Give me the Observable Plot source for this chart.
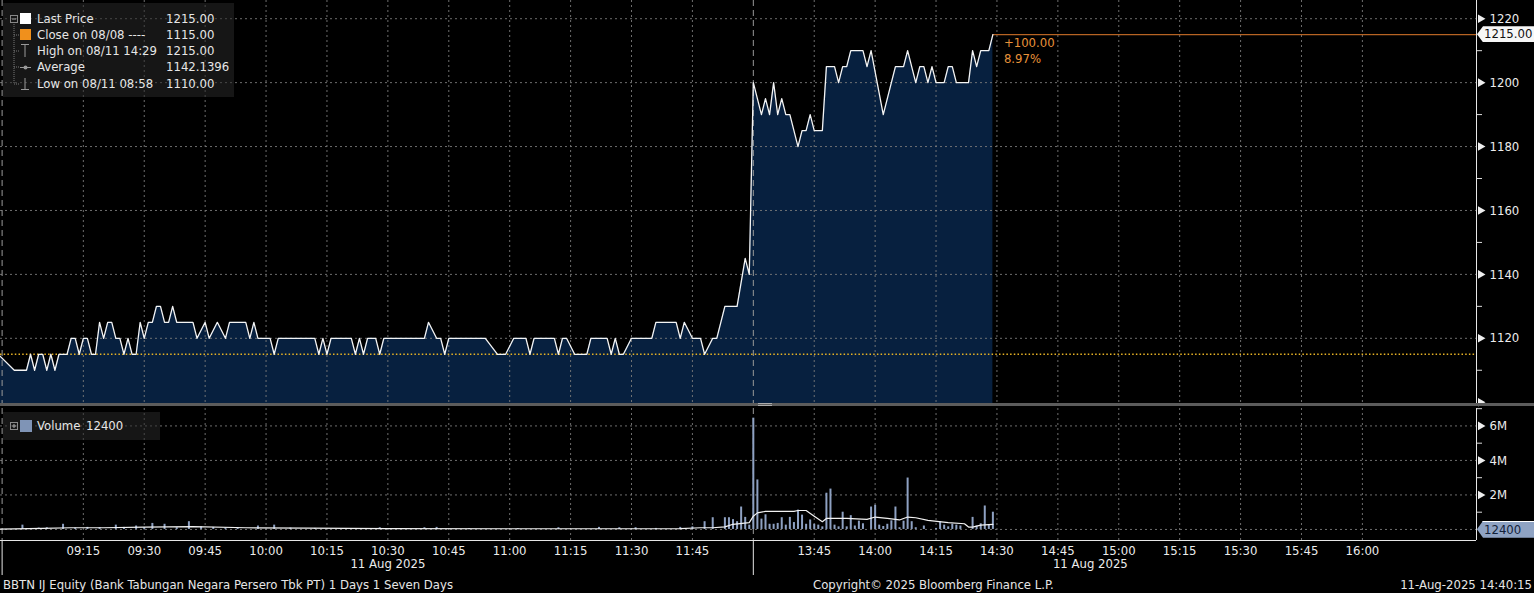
<!DOCTYPE html>
<html>
<head>
<meta charset="utf-8">
<script src="https://cdn.jsdelivr.net/npm/d3@7"></script>
<script src="https://cdn.jsdelivr.net/npm/@observablehq/plot@0.6"></script>
<style>
  html, body { margin: 0; padding: 0; background: #000; }
  #wrap { position: relative; width: 1534px; height: 593px; background: #000; overflow: hidden;
    font-family: "Liberation Sans Narrow", "Arial Narrow", "DejaVu Sans Condensed", "Liberation Sans", sans-serif;
    color: #e6e6e6; font-size: 13px; }
  .abs { position: absolute; white-space: nowrap; }
  .lg { position: absolute; background: rgba(40,40,40,0.55); }
  .row { position: absolute; height: 16px; line-height: 16px; white-space: nowrap; }
  .valbox { position: absolute; height: 16px; line-height: 16px; font-size: 13px; padding-left: 7px;
    clip-path: polygon(0 50%, 6px 0, 100% 0, 100% 100%, 6px 100%); }
</style>
</head>
<body>
<div id="wrap"></div>
<script>
// ---------------- DATA ----------------
const priceTimes = ["08:54","08:58","09:01","09:02","09:03","09:04","09:05","09:06","09:07","09:08",
"09:09","09:11","09:12","09:13","09:14","09:15","09:16","09:17","09:18","09:19",
"09:20","09:21","09:22","09:23","09:24","09:25","09:26","09:27","09:28","09:29",
"09:30","09:31","09:32","09:33","09:34","09:35","09:36","09:37","09:38","09:42",
"09:43","09:45","09:46","09:48","09:50","09:51","09:55","09:56","09:57","09:58",
"10:01","10:02","10:03","10:12","10:13","10:14","10:15","10:16","10:21","10:22",
"10:23","10:24","10:25","10:27","10:28","10:29","10:39","10:40","10:42","10:43",
"10:44","10:45","10:54","10:57","10:59","11:01","11:04","11:05","11:06","11:11",
"11:12","11:13","11:14","11:16","11:19","11:20","11:24","11:25","11:26","11:27",
"11:28","11:30","11:35","11:36","11:41","11:42","11:43","11:45","11:47","11:48",
"11:50","11:51","11:53","11:56","11:58","11:59",
"13:30","13:32","13:33","13:34","13:35","13:36","13:37","13:38","13:39","13:41",
"13:42","13:43","13:44","13:45","13:47","13:48","13:50","13:51","13:52","13:53",
"13:54","13:57","13:58","13:59","14:02","14:05","14:07","14:08","14:10","14:11",
"14:12","14:13","14:14","14:15","14:17","14:18","14:19","14:20","14:23","14:24",
"14:25","14:26","14:28","14:29"];
const priceValues = [1115,1110,1110,1115,1110,1115,1115,1110,1115,1110,
1115,1115,1120,1120,1115,1120,1120,1115,1115,1125,
1120,1125,1125,1120,1120,1115,1120,1115,1115,1125,
1120,1125,1125,1130,1130,1125,1125,1130,1125,1125,
1120,1125,1120,1125,1120,1125,1125,1120,1125,1120,
1120,1115,1120,1120,1115,1120,1115,1120,1120,1115,
1120,1115,1120,1120,1115,1120,1120,1125,1120,1120,
1115,1120,1120,1115,1115,1120,1120,1115,1120,1120,
1115,1120,1120,1115,1115,1120,1120,1115,1120,1115,
1115,1120,1120,1125,1125,1120,1125,1120,1120,1115,
1120,1120,1130,1130,1145,1140,
1200,1190,1195,1190,1200,1190,1195,1190,1190,1180,
1185,1185,1190,1185,1185,1205,1205,1200,1205,1205,
1210,1210,1205,1210,1190,1205,1205,1210,1200,1205,
1205,1200,1205,1200,1200,1205,1205,1200,1200,1210,
1205,1210,1210,1215];

// volume per minute, in millions of shares
const volTimes = ["09:00","09:04","09:06","09:10","09:13","09:16","09:19","09:23","09:25","09:28",
"09:30","09:32","09:35","09:38","09:41","09:44","09:47","09:50","09:53","09:58",
"10:02","10:06","10:12","10:18","10:28","10:35","10:39","10:42","10:50","11:02",
"11:12","11:22","11:27","11:31","11:36","11:42","11:45","11:48","11:50","11:53",
"11:54","11:55","11:56","11:57","11:58","11:59",
"13:30","13:31","13:32","13:33","13:34","13:35","13:36","13:37","13:38","13:39",
"13:40","13:41","13:42","13:43","13:44","13:45","13:46","13:47","13:48","13:49",
"13:50","13:51","13:52","13:53","13:54","13:55","13:56","13:57","13:59","14:00",
"14:01","14:02","14:03","14:04","14:05","14:06","14:07","14:08","14:09","14:10",
"14:12","14:15","14:16","14:17","14:18","14:19","14:20","14:21","14:24","14:25",
"14:26","14:27","14:28","14:29"];
const volValues = [0.25,0.08,0.1,0.3,0.08,0.12,0.1,0.25,0.12,0.2,
0.1,0.35,0.3,0.1,0.45,0.15,0.12,0.08,0.1,0.2,
0.25,0.08,0.06,0.05,0.1,0.05,0.1,0.12,0.05,0.05,
0.1,0.12,0.1,0.1,0.06,0.12,0.15,0.45,0.68,0.68,
0.68,0.57,0.45,1.3,0.7,0.25,
6.45,2.87,0.6,0.85,0.3,0.3,0.35,0.68,0.25,0.7,
0.4,1.12,0.83,0.3,0.55,0.3,0.25,0.15,2.1,2.34,
0.25,0.15,1.0,0.15,0.8,0.2,0.48,0.33,1.3,1.4,
0.25,0.17,0.3,0.5,1.3,0.1,0.48,2.98,0.45,0.1,
0.2,0.06,0.45,0.25,0.15,0.3,0.25,0.2,0.7,0.2,
0.33,1.36,0.25,1.0];

// white average-volume line, millions
const volAvgTimes = ["08:54","09:05","09:12","09:20","09:30","09:42","09:55","10:10","10:30","11:00",
"11:20","11:42","11:47","11:50","11:53","11:55","11:59","13:30","13:31","13:33",
"13:40","13:41","13:43","13:45","13:47","13:48","13:53","13:58","14:00","14:03",
"14:06","14:08","14:10","14:13","14:18","14:22","14:23","14:24","14:26","14:29"];
const volAvgValues = [0.02,0.06,0.1,0.1,0.14,0.16,0.1,0.08,0.05,0.04,
0.04,0.05,0.1,0.1,0.15,0.3,0.4,0.77,0.96,1.05,
1.05,1.1,1.1,0.77,0.45,0.64,0.64,0.58,0.72,0.64,
0.55,0.72,0.68,0.53,0.4,0.33,0.14,0.14,0.25,0.29];

const tickTimes = ["09:15","09:30","09:45","10:00","10:15","10:30","10:45","11:00","11:15","11:30","11:45",
"13:45","14:00","14:15","14:30","14:45","15:00","15:15","15:30","15:45","16:00"];
const sessionTimes = ["08:55","13:30"];
const dateLabelTimes = ["10:30","14:53"];
const dateLabel = "11 Aug 2025";
const priceTicks = [1120,1140,1160,1180,1200,1220];
const priceArrowTicks = [1100,1120,1140,1160,1180,1200,1220];
const priceMinorTicks = [1110,1130,1150,1170,1190,1210];
const volTicks = [0,2,4,6];
const volLabelTicks = [2,4,6];
const volMinorTicks = [1,3,5,7];

const prevClose = 1115;
const lastPrice = 1215;
const lastTime = "14:29";
const lastVolume = 12400;
const legendRows = [
  {label: "Last Price", value: "1215.00"},
  {label: "Close on 08/08 ----", value: "1115.00"},
  {label: "High on 08/11 14:29", value: "1215.00"},
  {label: "Average", value: "1142.1396"},
  {label: "Low on 08/11 08:58", value: "1110.00"}
];
const footerLeft = "BBTN IJ Equity (Bank Tabungan Negara Persero Tbk PT) 1 Days 1 Seven Days";
const footerMid = "Copyright\u00A9 2025 Bloomberg Finance L.P.";
const footerRight = "11-Aug-2025 14:40:15";

// ---------------- HELPERS ----------------
// trading minutes since 09:00, with the 12:00-13:30 break removed
function toM(t) {
  const [h, m] = t.split(":").map(Number);
  let v = h * 60 + m - 540;
  if (v >= 270) v -= 90;
  return v;
}
const xDomain = [-5.4, 358.1];
const yPriceDomain = [1099.6, 1225.7];
const yVolDomain = [-0.64, 7.01];

const priceData = priceTimes.map((t, i) => ({m: toM(t), v: priceValues[i]}));
const volData = volTimes.map((t, i) => ({m: toM(t), v: volValues[i]}));
const volAvgData = volAvgTimes.map((t, i) => ({m: toM(t), v: volAvgValues[i]}));
const tickM = tickTimes.map(toM);
const tickLabel = new Map(tickTimes.map(t => [toM(t), t]));
const sessionM = sessionTimes.map(toM);

const FONT = '"Liberation Sans Narrow", "Arial Narrow", "DejaVu Sans Condensed", "Liberation Sans", sans-serif';
const plotStyle = {background: "transparent", color: "#e6e6e6", fontFamily: FONT, fontSize: "13px", overflow: "visible"};
const gridOpts = {stroke: "#7a7a7a", strokeOpacity: 0.9, strokeDasharray: "2,3"};

const wrap = document.getElementById("wrap");

// ---------------- PRICE PANEL ----------------
const change = lastPrice - prevClose;
const pct = change / prevClose * 100;
const price = Plot.plot({
  width: 1534, height: 403,
  marginLeft: 0, marginRight: 58, marginTop: 0, marginBottom: 0,
  style: plotStyle,
  x: {domain: xDomain, axis: null},
  y: {domain: yPriceDomain, axis: null},
  marks: [
    Plot.areaY(priceData, {x: "m", y1: yPriceDomain[0], y2: "v", fill: "#07203f", curve: "linear"}),
    Plot.gridX(tickM, gridOpts),
    Plot.gridY(priceTicks, gridOpts),
    Plot.ruleX(sessionM, {stroke: "#9a9a9a", strokeDasharray: "6,4"}),
    Plot.ruleY([prevClose], {stroke: "#e8b325", strokeWidth: 1.6, strokeDasharray: "1.5,2.2"}),
    Plot.ruleY([lastPrice], {x1: toM(lastTime), x2: xDomain[1], stroke: "#e07b2c", strokeWidth: 1}),
    Plot.line(priceData, {x: "m", y: "v", stroke: "#f4f4f4", strokeWidth: 1.3, curve: "linear"}),
    Plot.text([lastPrice], {x: toM(lastTime), y: d => d, text: () => "+" + change.toFixed(2),
      dx: 11, dy: 8, textAnchor: "start", fill: "#e8923a"}),
    Plot.text([lastPrice], {x: toM(lastTime), y: d => d, text: () => pct.toFixed(2) + "%",
      dx: 11, dy: 24, textAnchor: "start", fill: "#e8923a"}),
    Plot.ruleX([xDomain[1]], {stroke: "#e6e6e6"}),
    Plot.axisY(priceTicks, {anchor: "right", tickSize: 0, tickPadding: 13, label: null,
      tickFormat: d => String(d), fill: "#ececec"}),
    Plot.axisY(priceMinorTicks, {anchor: "right", tickSize: 5, tickFormat: () => "", label: null, stroke: "#dddddd"}),
    Plot.dot(priceArrowTicks, {y: d => d, frameAnchor: "right", symbol: "triangle", r: 3.2, rotate: 90,
      fill: "#eeeeee", stroke: null, dx: 4})
  ]
});
price.style.position = "absolute";
price.style.left = "0px";
price.style.top = "0px";
wrap.appendChild(price);

// separator bar
const sep = document.createElement("div");
sep.className = "abs";
Object.assign(sep.style, {left: "0px", top: "403px", width: "1534px", height: "3px", background: "#5c5c5c"});
wrap.appendChild(sep);
const handle = document.createElement("div");
handle.className = "abs";
Object.assign(handle.style, {left: "758px", top: "403px", width: "14px", height: "1px",
  borderTop: "1px solid #aaa", borderBottom: "1px solid #aaa"});
wrap.appendChild(handle);

// ---------------- VOLUME PANEL ----------------
const VOL_TOP = 406;
const vol = Plot.plot({
  width: 1534, height: 169,
  marginLeft: 0, marginRight: 58, marginTop: 2, marginBottom: 35,
  style: plotStyle,
  x: {domain: xDomain, axis: null},
  y: {domain: yVolDomain, axis: null},
  marks: [
    Plot.gridX(tickM, gridOpts),
    Plot.gridY(volTicks, gridOpts),
    Plot.ruleX(sessionM, {stroke: "#9a9a9a", strokeDasharray: "6,4"}),
    Plot.ruleX(volData, {x: "m", y1: 0, y2: "v", stroke: "#8ea1c2", strokeWidth: 2}),
    Plot.line(volAvgData, {x: "m", y: "v", stroke: "#f2f2f2", strokeWidth: 1.2}),
    Plot.ruleX([xDomain[1]], {stroke: "#e6e6e6"}),
    Plot.ruleY([yVolDomain[0]], {stroke: "#e6e6e6"}),
    Plot.axisX(tickM, {anchor: "bottom", tickSize: 0, tickPadding: 5, label: null,
      tickFormat: m => tickLabel.get(m), fill: "#ececec"}),
    Plot.axisX(sessionM, {anchor: "bottom", tickSize: 35, tickFormat: () => "", label: null, stroke: "#e6e6e6"}),
    Plot.text(dateLabelTimes, {x: d => toM(d), text: () => dateLabel, frameAnchor: "bottom", dy: 27, fill: "#ececec"}),
    Plot.axisY(volLabelTicks, {anchor: "right", tickSize: 0, tickPadding: 13, label: null,
      tickFormat: d => d + "M", fill: "#ececec"}),
    Plot.axisY(volMinorTicks, {anchor: "right", tickSize: 5, tickFormat: () => "", label: null, stroke: "#dddddd"}),
    Plot.dot(volLabelTicks, {y: d => d, frameAnchor: "right", symbol: "triangle", r: 3.2, rotate: 90,
      fill: "#eeeeee", stroke: null, dx: 4})
  ]
});
vol.style.position = "absolute";
vol.style.left = "0px";
vol.style.top = VOL_TOP + "px";
wrap.appendChild(vol);

// ---------------- VALUE BOXES ON RIGHT AXIS ----------------
const yLast = price.scale("y").apply(lastPrice);
const box1 = document.createElement("div");
box1.className = "valbox";
box1.textContent = lastPrice.toFixed(2);
Object.assign(box1.style, {left: "1477px", top: (yLast - 8) + "px", width: "60px", background: "#f6f6f6", color: "#111"});
wrap.appendChild(box1);

const yVolLast = vol.scale("y").apply(lastVolume / 1e6) + VOL_TOP;
const box2 = document.createElement("div");
box2.className = "valbox";
box2.textContent = String(lastVolume);
Object.assign(box2.style, {left: "1477px", top: (yVolLast - 8) + "px", width: "60px", background: "#8fa3c3", color: "#13223a",
  borderTop: "1px solid #fff"});
wrap.appendChild(box2);

// ---------------- LEGENDS ----------------
const lg = document.createElement("div");
lg.className = "lg";
Object.assign(lg.style, {left: "3px", top: "3px", width: "231px", height: "94px"});
wrap.appendChild(lg);
const rowY = [11, 27, 43, 59, 76];
legendRows.forEach((r, i) => {
  const a = document.createElement("div");
  a.className = "row"; a.textContent = r.label;
  Object.assign(a.style, {left: "37px", top: rowY[i] + "px"});
  wrap.appendChild(a);
  const b = document.createElement("div");
  b.className = "row"; b.textContent = r.value;
  Object.assign(b.style, {left: "166px", top: rowY[i] + "px"});
  wrap.appendChild(b);
});
const ns = "http://www.w3.org/2000/svg";
const icons = document.createElementNS(ns, "svg");
icons.setAttribute("width", "40"); icons.setAttribute("height", "100");
Object.assign(icons.style, {position: "absolute", left: "0px", top: "0px"});
icons.innerHTML = `
  <line x1="14" y1="24" x2="14" y2="84" stroke="#777" stroke-dasharray="1,1"/>
  <line x1="14" y1="35" x2="19" y2="35" stroke="#777" stroke-dasharray="1,1"/>
  <line x1="14" y1="51" x2="19" y2="51" stroke="#777" stroke-dasharray="1,1"/>
  <line x1="14" y1="67" x2="19" y2="67" stroke="#777" stroke-dasharray="1,1"/>
  <line x1="14" y1="84" x2="19" y2="84" stroke="#777" stroke-dasharray="1,1"/>
  <rect x="10.5" y="15.5" width="7" height="7" fill="none" stroke="#888"/>
  <line x1="12" y1="19" x2="16" y2="19" stroke="#aaa"/>
  <rect x="20" y="13" width="11" height="11" fill="#ffffff"/>
  <rect x="20" y="29" width="11" height="11" fill="#f0901c"/>
  <line x1="21" y1="44.5" x2="29" y2="44.5" stroke="#999"/>
  <line x1="25" y1="44.5" x2="25" y2="57" stroke="#999"/>
  <line x1="20" y1="67.5" x2="31" y2="67.5" stroke="#999"/>
  <circle cx="25.5" cy="67.5" r="2" fill="#999"/>
  <line x1="25" y1="78" x2="25" y2="89.5" stroke="#999"/>
  <line x1="21" y1="89.5" x2="29" y2="89.5" stroke="#999"/>`;
wrap.appendChild(icons);

const lg2 = document.createElement("div");
lg2.className = "lg";
Object.assign(lg2.style, {left: "3px", top: "412px", width: "157px", height: "28px"});
wrap.appendChild(lg2);
const icons2 = document.createElementNS(ns, "svg");
icons2.setAttribute("width", "40"); icons2.setAttribute("height", "30");
Object.assign(icons2.style, {position: "absolute", left: "0px", top: "412px"});
icons2.innerHTML = `
  <rect x="10.5" y="10.5" width="7" height="7" fill="none" stroke="#888"/>
  <line x1="12" y1="14" x2="16" y2="14" stroke="#aaa"/>
  <line x1="14" y1="12" x2="14" y2="16" stroke="#aaa"/>
  <rect x="20" y="8" width="12" height="12" fill="#7f94b6"/>`;
wrap.appendChild(icons2);
const vl = document.createElement("div");
vl.className = "row"; vl.textContent = "Volume";
Object.assign(vl.style, {left: "37px", top: "418px"});
wrap.appendChild(vl);
const vv = document.createElement("div");
vv.className = "row"; vv.textContent = String(lastVolume);
Object.assign(vv.style, {left: "86px", top: "418px"});
wrap.appendChild(vv);

// ---------------- FOOTER ----------------
function foot(text, css) {
  const d = document.createElement("div");
  d.className = "abs"; d.textContent = text;
  Object.assign(d.style, {top: "576px", height: "17px", lineHeight: "17px"}, css);
  wrap.appendChild(d);
}
foot(footerLeft, {left: "3px"});
foot(footerMid, {left: "813px"});
foot(footerRight, {right: "2px"});
</script>
</body>
</html>
